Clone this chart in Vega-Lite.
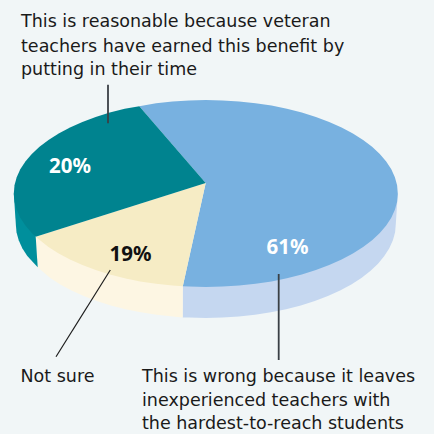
{"$schema":"https://vega.github.io/schema/vega-lite/v6.json","width":434,"height":434,"autosize":{"type":"fit","contains":"padding"},"padding":0,"background":"#f1f6f7","config":{"view":{"stroke":null}},
"resolve":{"scale":{"color":"independent"}},
"datasets":{
"shapes":[
{"s":"a wall blue","n":1,"x":397.8,"y":193.5},{"s":"a wall blue","n":2,"x":395.8,"y":224},{"s":"a wall blue","n":3,"x":395.1,"y":232.2},{"s":"a wall blue","n":4,"x":392.9,"y":240.3},{"s":"a wall blue","n":5,"x":389.3,"y":248.3},{"s":"a wall blue","n":6,"x":384.3,"y":256.1},{"s":"a wall blue","n":7,"x":378,"y":263.7},{"s":"a wall blue","n":8,"x":370.3,"y":271},{"s":"a wall blue","n":9,"x":361.4,"y":277.9},{"s":"a wall blue","n":10,"x":351.3,"y":284.4},{"s":"a wall blue","n":11,"x":340.1,"y":290.5},{"s":"a wall blue","n":12,"x":327.9,"y":296},{"s":"a wall blue","n":13,"x":314.8,"y":301},{"s":"a wall blue","n":14,"x":300.8,"y":305.4},{"s":"a wall blue","n":15,"x":286.1,"y":309.2},{"s":"a wall blue","n":16,"x":270.8,"y":312.3},{"s":"a wall blue","n":17,"x":255,"y":314.8},{"s":"a wall blue","n":18,"x":238.8,"y":316.6},{"s":"a wall blue","n":19,"x":222.4,"y":317.6},{"s":"a wall blue","n":20,"x":205.8,"y":318},{"s":"a wall blue","n":21,"x":189.2,"y":317.6},{"s":"a wall blue","n":22,"x":182.7,"y":317.5},{"s":"a wall blue","n":23,"x":182.8,"y":286},
{"s":"b wall cream","n":1,"x":35.7,"y":236.8},{"s":"b wall cream","n":2,"x":37.7,"y":267.3},{"s":"b wall cream","n":3,"x":50.2,"y":277.9},{"s":"b wall cream","n":4,"x":60.3,"y":284.4},{"s":"b wall cream","n":5,"x":71.5,"y":290.5},{"s":"b wall cream","n":6,"x":83.7,"y":296},{"s":"b wall cream","n":7,"x":96.8,"y":301},{"s":"b wall cream","n":8,"x":110.8,"y":305.4},{"s":"b wall cream","n":9,"x":125.5,"y":309.2},{"s":"b wall cream","n":10,"x":140.8,"y":312.3},{"s":"b wall cream","n":11,"x":156.6,"y":314.8},{"s":"b wall cream","n":12,"x":172.8,"y":316.6},{"s":"b wall cream","n":13,"x":182.7,"y":317.5},{"s":"b wall cream","n":14,"x":182.8,"y":286},
{"s":"c wall teal","n":1,"x":13.8,"y":193.5},{"s":"c wall teal","n":2,"x":15.8,"y":224},{"s":"c wall teal","n":3,"x":16.5,"y":232.2},{"s":"c wall teal","n":4,"x":18.7,"y":240.3},{"s":"c wall teal","n":5,"x":22.3,"y":248.3},{"s":"c wall teal","n":6,"x":27.3,"y":256.1},{"s":"c wall teal","n":7,"x":37.7,"y":267.3},{"s":"c wall teal","n":8,"x":35.7,"y":236.8},
{"s":"d top blue","n":1,"x":205.7,"y":183},{"s":"d top blue","n":2,"x":182.8,"y":286.2},{"s":"d top blue","n":3,"x":189.1,"y":286.6},{"s":"d top blue","n":4,"x":205.8,"y":287},{"s":"d top blue","n":5,"x":222.5,"y":286.6},{"s":"d top blue","n":6,"x":239.1,"y":285.6},{"s":"d top blue","n":7,"x":255.5,"y":283.8},{"s":"d top blue","n":8,"x":271.5,"y":281.4},{"s":"d top blue","n":9,"x":286.9,"y":278.2},{"s":"d top blue","n":10,"x":301.8,"y":274.5},{"s":"d top blue","n":11,"x":315.9,"y":270.1},{"s":"d top blue","n":12,"x":329.2,"y":265.1},{"s":"d top blue","n":13,"x":341.6,"y":259.6},{"s":"d top blue","n":14,"x":352.9,"y":253.6},{"s":"d top blue","n":15,"x":363.1,"y":247.1},{"s":"d top blue","n":16,"x":372.1,"y":240.3},{"s":"d top blue","n":17,"x":379.8,"y":233},{"s":"d top blue","n":18,"x":386.2,"y":225.5},{"s":"d top blue","n":19,"x":391.3,"y":217.7},{"s":"d top blue","n":20,"x":394.9,"y":209.7},{"s":"d top blue","n":21,"x":397.1,"y":201.7},{"s":"d top blue","n":22,"x":397.8,"y":193.5},{"s":"d top blue","n":23,"x":397.1,"y":185.3},{"s":"d top blue","n":24,"x":394.9,"y":177.3},{"s":"d top blue","n":25,"x":391.3,"y":169.3},{"s":"d top blue","n":26,"x":386.2,"y":161.5},{"s":"d top blue","n":27,"x":379.8,"y":154},{"s":"d top blue","n":28,"x":372.1,"y":146.7},{"s":"d top blue","n":29,"x":363.1,"y":139.9},{"s":"d top blue","n":30,"x":352.9,"y":133.4},{"s":"d top blue","n":31,"x":341.6,"y":127.4},{"s":"d top blue","n":32,"x":329.2,"y":121.9},{"s":"d top blue","n":33,"x":315.9,"y":116.9},{"s":"d top blue","n":34,"x":301.8,"y":112.5},{"s":"d top blue","n":35,"x":286.9,"y":108.8},{"s":"d top blue","n":36,"x":271.5,"y":105.6},{"s":"d top blue","n":37,"x":255.5,"y":103.2},{"s":"d top blue","n":38,"x":239.1,"y":101.4},{"s":"d top blue","n":39,"x":222.5,"y":100.4},{"s":"d top blue","n":40,"x":205.8,"y":100},{"s":"d top blue","n":41,"x":189.1,"y":100.4},{"s":"d top blue","n":42,"x":172.5,"y":101.4},{"s":"d top blue","n":43,"x":156.1,"y":103.2},{"s":"d top blue","n":44,"x":139.3,"y":106.2},
{"s":"e top cream","n":1,"x":205.7,"y":183},{"s":"e top cream","n":2,"x":35.7,"y":236.8},{"s":"e top cream","n":3,"x":48.5,"y":247.1},{"s":"e top cream","n":4,"x":58.7,"y":253.6},{"s":"e top cream","n":5,"x":70,"y":259.6},{"s":"e top cream","n":6,"x":82.4,"y":265.1},{"s":"e top cream","n":7,"x":95.7,"y":270.1},{"s":"e top cream","n":8,"x":109.8,"y":274.5},{"s":"e top cream","n":9,"x":124.7,"y":278.2},{"s":"e top cream","n":10,"x":140.1,"y":281.4},{"s":"e top cream","n":11,"x":156.1,"y":283.8},{"s":"e top cream","n":12,"x":172.5,"y":285.6},{"s":"e top cream","n":13,"x":182.8,"y":286.2},
{"s":"f top teal","n":1,"x":205.7,"y":183},{"s":"f top teal","n":2,"x":139.3,"y":106.2},{"s":"f top teal","n":3,"x":124.7,"y":108.8},{"s":"f top teal","n":4,"x":109.8,"y":112.5},{"s":"f top teal","n":5,"x":95.7,"y":116.9},{"s":"f top teal","n":6,"x":82.4,"y":121.9},{"s":"f top teal","n":7,"x":70,"y":127.4},{"s":"f top teal","n":8,"x":58.7,"y":133.4},{"s":"f top teal","n":9,"x":48.5,"y":139.9},{"s":"f top teal","n":10,"x":39.5,"y":146.7},{"s":"f top teal","n":11,"x":31.8,"y":154},{"s":"f top teal","n":12,"x":25.4,"y":161.5},{"s":"f top teal","n":13,"x":20.3,"y":169.3},{"s":"f top teal","n":14,"x":16.7,"y":177.3},{"s":"f top teal","n":15,"x":14.5,"y":185.3},{"s":"f top teal","n":16,"x":13.8,"y":193.5},{"s":"f top teal","n":17,"x":14.5,"y":201.7},{"s":"f top teal","n":18,"x":16.7,"y":209.7},{"s":"f top teal","n":19,"x":20.3,"y":217.7},{"s":"f top teal","n":20,"x":25.4,"y":225.5},{"s":"f top teal","n":21,"x":31.8,"y":233},{"s":"f top teal","n":22,"x":35.7,"y":236.8}
],
"leaders":[
{"l":"a","n":1,"x":108,"y":84.7},{"l":"a","n":2,"x":108,"y":123.3},
{"l":"b","n":1,"x":278.7,"y":274},{"l":"b","n":2,"x":278.7,"y":360}
],
"thin":[
{"l":"c","n":1,"x":110.3,"y":270},{"l":"c","n":2,"x":56,"y":356.7}
],
"captions":[
{"t":"This is reasonable because veteran","x":21,"y":27.3},
{"t":"teachers have earned this benefit by","x":21,"y":51.7},
{"t":"putting in their time","x":21,"y":75},
{"t":"Not sure","x":20.5,"y":381.7},
{"t":"This is wrong because it leaves","x":142,"y":381.7},
{"t":"inexperienced teachers with","x":142,"y":405.7},
{"t":"the hardest-to-reach students","x":142,"y":429.3}
],
"pct":[
{"t":"20%","x":49,"y":173,"c":"white"},
{"t":"19%","x":109.5,"y":261,"c":"black"},
{"t":"61%","x":266.5,"y":254,"c":"white"}
]},
"layer":[
{"data":{"name":"shapes"},"mark":{"type":"line","filled":true,"strokeWidth":0},
"encoding":{"x":{"field":"x","type":"quantitative","scale":{"domain":[0,434]},"axis":null},"y":{"field":"y","type":"quantitative","scale":{"domain":[434,0]},"axis":null},"order":{"field":"n","type":"quantitative"},
"color":{"field":"s","type":"nominal","legend":null,"scale":{"domain":["a wall blue","b wall cream","c wall teal","d top blue","e top cream","f top teal"],"range":["#c5d7f0","#fdf6e3","#008f9c","#78b1e0","#f6ecc5","#00838f"]}}}},
{"data":{"name":"leaders"},"mark":{"type":"line","stroke":"#3a4045","strokeWidth":1.8},
"encoding":{"x":{"field":"x","type":"quantitative","scale":{"domain":[0,434]},"axis":null},"y":{"field":"y","type":"quantitative","scale":{"domain":[434,0]},"axis":null},"order":{"field":"n","type":"quantitative"},"detail":{"field":"l"}}},
{"data":{"name":"thin"},"mark":{"type":"line","stroke":"#1c1c1c","strokeWidth":1.2},
"encoding":{"x":{"field":"x","type":"quantitative","scale":{"domain":[0,434]},"axis":null},"y":{"field":"y","type":"quantitative","scale":{"domain":[434,0]},"axis":null},"order":{"field":"n","type":"quantitative"}}},
{"data":{"name":"captions"},"mark":{"type":"text","align":"left","baseline":"alphabetic","font":"DejaVu Sans","fontSize":17.5,"fill":"#1a1a1a"},
"encoding":{"x":{"field":"x","type":"quantitative","scale":{"domain":[0,434]},"axis":null},"y":{"field":"y","type":"quantitative","scale":{"domain":[434,0]},"axis":null},"text":{"field":"t"}}},
{"data":{"name":"pct"},"mark":{"type":"text","align":"left","baseline":"alphabetic","font":"Noto Sans","fontSize":20.5,"fontWeight":"bold"},
"encoding":{"x":{"field":"x","type":"quantitative","scale":{"domain":[0,434]},"axis":null},"y":{"field":"y","type":"quantitative","scale":{"domain":[434,0]},"axis":null},"text":{"field":"t"},"color":{"field":"c","type":"nominal","legend":null,"scale":{"domain":["white","black"],"range":["#ffffff","#111111"]}}}}
]}
